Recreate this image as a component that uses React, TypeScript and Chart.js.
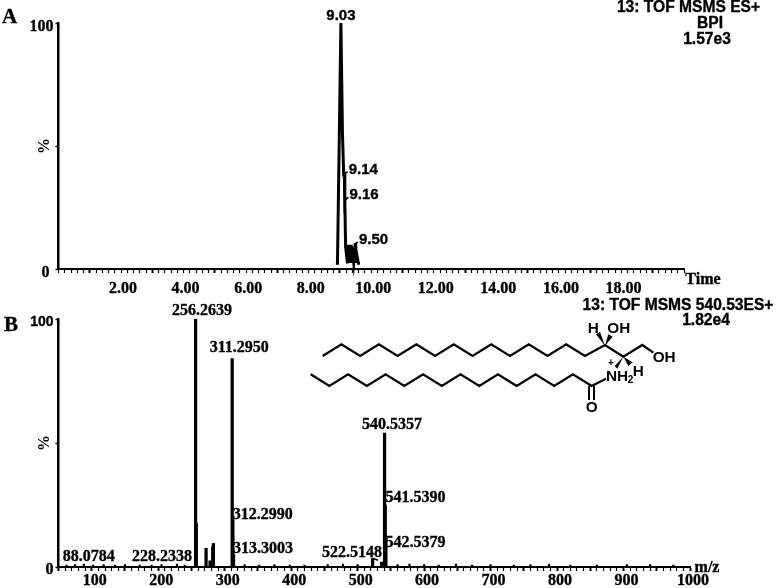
import React, { useEffect, useRef } from "react";
import { Chart, registerables } from "chart.js";

Chart.register(...registerables);

const SERIF = '"Liberation Serif", serif';
const SANS = '"Liberation Sans", sans-serif';

// Panel A: base peak chromatogram
const traceTime = [8.87, 8.92, 9.03, 9.08, 9.12, 9.14, 9.15, 9.16, 9.18, 9.24, 9.28, 9.3, 9.34, 9.37, 9.41, 9.44, 9.5, 9.53, 9.55, 9.6];
const traceIntensity = [2.3, 2.3, 100, 55, 37.5, 39, 22.7, 28, 9, 2.3, 9.8, 2.5, 9.8, 2.5, 6, 2.5, 10.5, 2.5, 5, 1.7];
const timeLabelValues = [2, 4, 6, 8, 10, 12, 14, 16, 18];
const timePeakTimes = [9.03, 9.14, 9.16, 9.5];
const timePeakIntensity = [100, 39, 28, 10.5];
const timePeakLabels = ["9.03", "9.14", "9.16", "9.50"];

// Panel B: MS/MS spectrum
const spectrumMz = [256.26, 257.27, 272, 278, 282, 283, 311.295, 312.3, 313.3, 522.51, 536, 540.54, 541.54, 542.54];
const spectrumIntensity = [100, 17.5, 7.5, 2.5, 8, 9.5, 84, 19.5, 5, 3.5, 2, 54, 25, 11.5];
const noiseMz = [62, 75, 88.08, 102, 118, 135, 150, 172, 190, 205, 228.23, 240, 330, 352, 375, 398, 420, 455, 478, 500, 560, 578, 600, 622, 648, 672, 700, 735, 760, 788, 820, 860, 905, 940, 975];
const noiseIntensity = [0.8, 1, 1.2, 0.8, 1, 0.8, 1, 0.8, 0.8, 1, 1.2, 0.8, 1, 0.8, 1, 0.8, 0.8, 1, 1.2, 1, 1, 1.2, 1, 0.8, 1.2, 0.8, 1, 0.8, 1, 1.2, 0.8, 0.8, 1, 1, 0.8];
const mzLabelValues = [100, 200, 300, 400, 500, 600, 700, 800, 900, 1000];
const mzPeakValues = [88.08, 228.23, 256.26, 311.295, 312.3, 313.3, 522.51, 540.54, 541.54, 542.54];
const mzPeakIntensity = [1.2, 1.2, 100, 84, 19.5, 5, 3.5, 54, 25, 11.5];
const mzPeakLabels = ["88.0784", "228.2338", "256.2639", "311.2950", "312.2990", "313.3003", "522.5148", "540.5357", "541.5390", "542.5379"];

// Text placement relative to the peak that it names
const timeLabelOffsets = [[0, -7], [19, -3], [19, -5], [18, -3]];
const mzLabelOffsets = [[5, -7], [-15, -7], [6.5, -8], [7, -10.7], [30, -4], [29.5, -5.6], [-20.6, -5], [7.4, -8], [30.2, -7], [29.5, 4]];

type Note = { text: string; x: number; y: number; font: string };

const peakLabels = (xs: number[], ys: number[], texts: string[], offsets: number[][], font: string, leaders: boolean[]) => ({
  id: "peakLabels",
  afterDraw(chart: any) {
    const { ctx, scales } = chart;
    ctx.save();
    ctx.fillStyle = "#000";
    ctx.strokeStyle = "#000";
    ctx.font = font;
    ctx.textAlign = "center";
    ctx.textBaseline = "middle";
    texts.forEach((t, i) => {
      const px = scales.x.getPixelForValue(xs[i]);
      const py = scales.y.getPixelForValue(ys[i]);
      const lx = px + offsets[i][0];
      const ly = py + offsets[i][1];
      ctx.lineWidth = 0.35;
      ctx.strokeText(t, lx, ly);
      ctx.fillText(t, lx, ly);
      if (leaders[i]) {
        const w = ctx.measureText(t).width;
        const end = offsets[i][0] < 0 ? lx + w / 2 - 4 : lx - w / 2 - 1;
        ctx.lineWidth = 1.5;
        ctx.beginPath();
        ctx.moveTo(px, py);
        ctx.lineTo(end, offsets[i][0] < 0 ? ly + 7 : ly + 2);
        ctx.stroke();
      }
    });
    ctx.restore();
  },
});

const notes = (items: Note[]) => ({
  id: "notes",
  afterDraw(chart: any) {
    const { ctx } = chart;
    ctx.save();
    ctx.fillStyle = "#000";
    ctx.strokeStyle = "#000";
    ctx.lineWidth = 0.35;
    ctx.textAlign = "center";
    ctx.textBaseline = "middle";
    items.forEach((n) => {
      ctx.font = n.font;
      ctx.strokeText(n.text, n.x, n.y);
      ctx.fillText(n.text, n.x, n.y);
    });
    ctx.restore();
  },
});

const xAxis = (min: number, max: number, step: number, majorFirst: number, majorStep: number, labels: number[], fmt: (v: number) => string, height: number, shift: number, pad: number) => ({
  type: "linear",
  min,
  max,
  offset: false,
  afterBuildTicks(scale: any) {
    const n = Math.round((max - min) / step);
    scale.ticks = Array.from({ length: n + 1 }, (_, i) => ({ value: min + i * step }));
  },
  afterFit(scale: any) {
    scale.height = height;
  },
  border: { display: true, color: "#000", width: 2 },
  grid: {
    display: true,
    offset: false,
    drawOnChartArea: false,
    drawTicks: true,
    tickLength: 4,
    tickColor: "#000",
    tickWidth: (c: any) => {
      if (!c.tick) return 1.2;
      const q = (c.tick.value - majorFirst) / majorStep;
      return Math.abs(q - Math.round(q)) < 1e-6 ? 2 : 1.2;
    },
  },
  ticks: {
    autoSkip: false,
    maxRotation: 0,
    minRotation: 0,
    padding: pad,
    labelOffset: shift,
    color: "#000",
    textStrokeColor: "#000",
    textStrokeWidth: 0.35,
    font: { family: SERIF, weight: "bold", size: 16 },
    callback: (v: number) => (labels.some((l) => Math.abs(l - v) < 1e-6) ? fmt(v) : ""),
  },
});

const yAxis = (topFont: string, shift: number, zeroLabel: string) => ({
  type: "linear",
  min: 0,
  max: 100,
  afterBuildTicks(scale: any) {
    scale.ticks = [0, 50, 100].map((value) => ({ value }));
  },
  afterFit(scale: any) {
    scale.width = 58.5;
  },
  border: { display: true, color: "#000", width: 2.5 },
  grid: { display: true, drawOnChartArea: false, drawTicks: true, tickLength: 3, tickColor: "#000", tickWidth: 1.5 },
  title: {
    display: true,
    text: "%",
    color: "#000",
    font: { family: SERIF, weight: "bold", size: 16 },
    padding: { top: 35, bottom: 0 },
  },
  ticks: {
    padding: 2,
    autoSkip: false,
    labelOffset: shift,
    color: "#000",
    textStrokeColor: "#000",
    textStrokeWidth: 0.35,
    font: (c: any) => ({ family: c.tick && c.tick.value === 100 ? topFont : SERIF, weight: "bold", size: c.tick && c.tick.value === 100 && topFont === SANS ? 14 : 16 }),
    callback: (v: number) => (v === 100 ? "100" : v === 0 ? zeroLabel : ""),
  },
});

function Structure() {
  const chain1: number[][] = [];
  for (let i = 0; i <= 14; i++) chain1.push([68 + 56.2 * i, i % 2 ? 193 : 228]);
  chain1.push([915, 195], [970, 230], [1027, 195], [1060, 218]);
  const chain2: number[][] = [];
  for (let i = 0; i <= 15; i++) chain2.push([32 + 56.2 * i, i % 2 ? 318 : 283]);
  chain2.push([918, 296]);
  const txt = { fontFamily: SANS, fontWeight: 700, fontSize: 46, fill: "#000" } as const;
  return (
    <svg width={779} height={588} style={{ position: "absolute", left: 0, top: 0, pointerEvents: "none" }}>
      <g transform="translate(300 280) scale(0.33333)">
        <polyline points={chain1.map((p) => p.join(",")).join(" ")} fill="none" stroke="#000" strokeWidth={7} strokeLinejoin="miter" />
        <polyline points={chain2.map((p) => p.join(",")).join(" ")} fill="none" stroke="#000" strokeWidth={7} strokeLinejoin="miter" />
        <line x1={867} y1={318} x2={867} y2={360} stroke="#000" strokeWidth={6} />
        <line x1={882} y1={318} x2={882} y2={360} stroke="#000" strokeWidth={6} />
        <polygon points="915,197 888,163 900,156" fill="#000" />
        <polygon points="915,197 925,163 938,170" fill="#000" />
        <polygon points="970,230 985,258 998,247" fill="#000" />
        <polygon points="970,230 944,258 952,266" fill="#000" />
        <text x={863} y={160} {...txt}>H</text>
        <text x={922} y={160} {...txt}>OH</text>
        <text x={1058} y={245} {...txt}>OH</text>
        <text x={918} y={302} {...txt}>NH</text>
        <text x={983} y={308} {...txt} fontSize={30}>2</text>
        <text x={998} y={288} {...txt}>H</text>
        <text x={924} y={258} {...txt} fontSize={30}>+</text>
        <text x={857} y={396} {...txt}>O</text>
      </g>
    </svg>
  );
}

export default function App() {
  const refA = useRef<HTMLCanvasElement>(null);
  const refB = useRef<HTMLCanvasElement>(null);

  useEffect(() => {
    const sansBold15 = `bold 15px ${SANS}`;
    const sansBoldHead = `bold 15.6px ${SANS}`;
    const serifBold16 = `bold 16px ${SERIF}`;

    const chartA = new Chart(refA.current as any, {
      type: "line",
      data: {
        datasets: [
          {
            data: traceTime.map((x, i) => ({ x, y: traceIntensity[i] })),
            borderColor: "#000",
            borderWidth: 3,
            pointRadius: 0,
            tension: 0,
            borderJoinStyle: "miter",
            clip: false,
          },
        ],
      },
      options: {
        animation: false,
        responsive: false,
        layout: { padding: { left: 0, top: 23, right: 95, bottom: 0 } },
        plugins: { legend: { display: false }, tooltip: { enabled: false }, title: { display: false } },
        scales: {
          x: xAxis(0, 20, 0.2, 1, 2, timeLabelValues, (v) => v.toFixed(2), 27, 2, 6),
          y: yAxis(SERIF, 4, "0 "),
        },
      } as any,
      plugins: [
        peakLabels(timePeakTimes, timePeakIntensity, timePeakLabels, timeLabelOffsets, sansBold15, [false, true, true, true]),
        notes([
          { text: "A", x: 9.5, y: 18, font: `bold 21px ${SERIF}` },
          { text: "13: TOF MSMS ES+", x: 688.5, y: 8, font: sansBoldHead },
          { text: "BPI", x: 710, y: 24, font: sansBoldHead },
          { text: "1.57e3", x: 707, y: 40, font: sansBoldHead },
          { text: "Time", x: 703, y: 280, font: serifBold16 },
        ]),
      ] as any,
    });

    const chartB = new Chart(refB.current as any, {
      type: "bar",
      data: {
        datasets: [
          {
            data: spectrumMz.map((x, i) => ({ x, y: spectrumIntensity[i] })),
            backgroundColor: "#000",
            barThickness: 2.6,
            grouped: false,
          },
          {
            data: noiseMz.map((x, i) => ({ x, y: noiseIntensity[i] })),
            backgroundColor: "#000",
            barThickness: 1.5,
            grouped: false,
          },
        ],
      },
      options: {
        animation: false,
        responsive: false,
        layout: { padding: { left: 0, top: 23, right: 89, bottom: 0 } },
        plugins: { legend: { display: false }, tooltip: { enabled: false }, title: { display: false } },
        scales: {
          x: xAxis(50, 1000, 10, 50, 50, mzLabelValues, (v) => String(Math.round(v)), 21, 3, 0),
          y: yAxis(SANS, 3, "0"),
        },
      } as any,
      plugins: [
        peakLabels(mzPeakValues, mzPeakIntensity, mzPeakLabels, mzLabelOffsets, serifBold16, [false, false, false, false, true, true, true, false, true, true]),
        notes([
          { text: "B", x: 11, y: 30, font: `bold 21px ${SERIF}` },
          { text: "13: TOF MSMS 540.53ES+", x: 678, y: 10, font: sansBoldHead },
          { text: "1.82e4", x: 706, y: 25, font: sansBoldHead },
          { text: "m/z", x: 707, y: 272, font: serifBold16 },
        ]),
      ] as any,
    });

    return () => {
      chartA.destroy();
      chartB.destroy();
    };
  }, []);

  return (
    <div style={{ position: "absolute", left: 0, top: 0, width: 779, height: 588, background: "#fff", overflow: "hidden", filter: "blur(0.45px)" }}>
      <canvas ref={refA} width={779} height={296} style={{ position: "absolute", left: 0, top: 0, width: 779, height: 296 }} />
      <canvas ref={refB} width={779} height={292} style={{ position: "absolute", left: 0, top: 296, width: 779, height: 292 }} />
      <Structure />
    </div>
  );
}
